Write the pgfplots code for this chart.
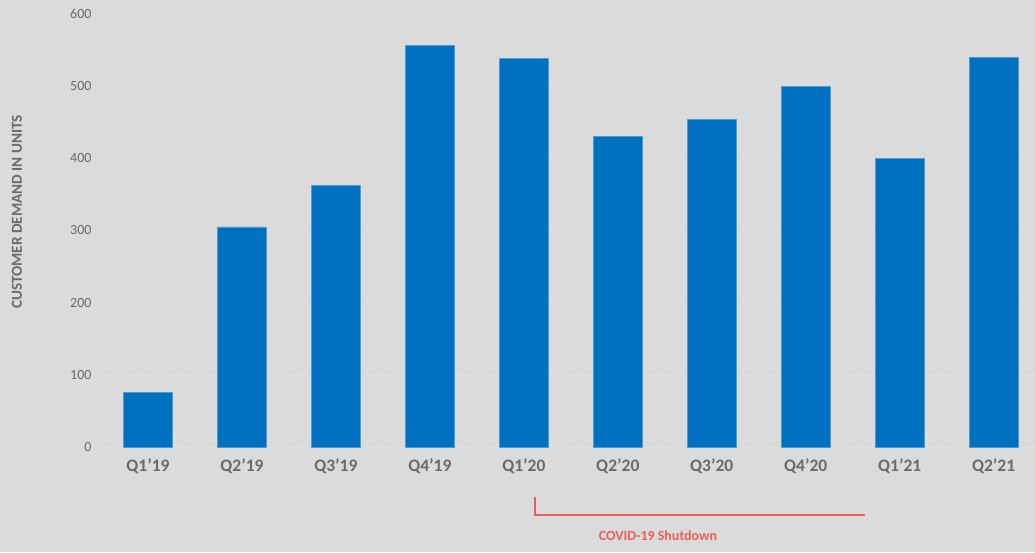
\documentclass[border=0pt]{standalone}
\usepackage{pgfplots}
\pgfplotsset{compat=1.18}
\usepackage{fontspec}
\setmainfont{Carlito}
\definecolor{bg}{HTML}{DBDBDB}
\definecolor{barblue}{HTML}{0070C0}
\definecolor{tickgray}{HTML}{6A6A6A}
\definecolor{covidred}{HTML}{E8605A}
\begin{document}
\begin{tikzpicture}
\useasboundingbox (0,0) rectangle (1035pt,552pt);
\fill[bg] (0,0) rectangle (1035pt,552pt);
\begin{axis}[
  at={(101pt,105pt)}, anchor=south west,
  scale only axis, width=934pt, height=433pt,
  xmin=-0.5, xmax=9.44, ymin=0, ymax=600,
  ytick={0,100,...,600},
  xtick={0,...,9},
  xticklabels={Q1'19,Q2'19,Q3'19,Q4'19,Q1'20,Q2'20,Q3'20,Q4'20,Q1'21,Q2'21},
  axis line style={draw=none},
  major tick style={draw=none},
  ymajorgrids, grid style={draw=white!22!bg, densely dashed, line width=0.4pt},
  /pgf/number format/assume math mode=true,
  yticklabel style={font=\fontsize{14}{16}\selectfont, text=tickgray, xshift=-6pt},
  xticklabel style={font=\fontsize{17.5}{19}\selectfont\bfseries, text=tickgray, yshift=-8pt},
  clip=false,
]
\addplot[ybar, bar width=49pt, fill=barblue, draw=barblue!70!white, line width=0.5pt]
  coordinates {(0,76) (1,305) (2,363) (3,557) (4,538) (5,430) (6,454) (7,500) (8,400) (9,540)};
\end{axis}
\node[rotate=90, text=tickgray, font=\fontsize{15.2}{17}\selectfont\bfseries] at (17pt,340pt) {CUSTOMER DEMAND IN UNITS};
\draw[covidred, line width=1.2pt] (535pt,55pt) -- (535pt,37pt) -- (865pt,37pt);
\node[text=covidred, font=\fontsize{14}{16}\selectfont\bfseries] at (658pt,16pt) {COVID-19 Shutdown};
\end{tikzpicture}
\end{document}
